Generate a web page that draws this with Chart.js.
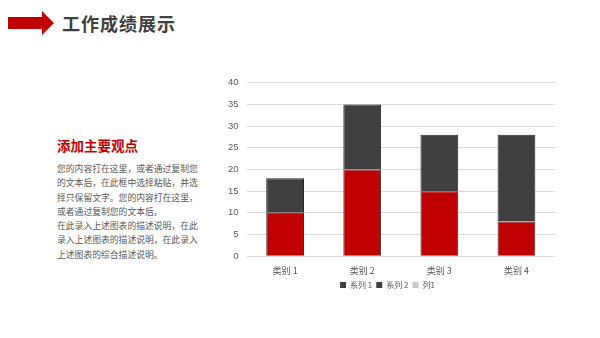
<!DOCTYPE html>
<html>
<head>
<meta charset="utf-8">
<script src="https://cdn.jsdelivr.net/npm/chart.js@4"></script>
<style>
  html, body { margin: 0; padding: 0; background: #fff; }
  body { width: 600px; height: 338px; position: relative; overflow: hidden;
         font-family: "Noto Sans CJK SC", "Noto Sans", sans-serif; }
  #arrow { position: absolute; left: 8px; top: 11px; }
  #title { position: absolute; left: 62px; top: 10px; font-size: 18px; font-weight: bold;
           color: #404040; letter-spacing: 1px; line-height: 26px; }
  #subtitle { position: absolute; left: 57px; top: 136px; font-size: 13.5px; font-weight: bold;
              color: #c00000; line-height: 18px; }
  #desc { position: absolute; left: 57px; top: 162px; width: 170px; font-size: 8.8px;
          color: #595959; line-height: 14.3px; white-space: nowrap; }
  #box { position: absolute; left: 220px; top: 69px; width: 345px; height: 230px; }
</style>
</head>
<body>
<svg id="arrow" width="46" height="24" viewBox="0 0 46 24">
  <polygon points="0,6 34,6 34,0 46,12 34,24 34,18 0,18" fill="#c00000"/>
</svg>
<div id="title">工作成绩展示</div>
<div id="subtitle">添加主要观点</div>
<div id="desc">您的内容打在这里，或者通过复制您<br>的文本后，在此框中选择粘贴，并选<br>择只保留文字。您的内容打在这里，<br>或者通过复制您的文本后。<br>在此录入上述图表的描述说明，在此<br>录入上述图表的描述说明，在此录入<br>上述图表的综合描述说明。</div>
<div id="box"><canvas id="myChart"></canvas></div>
<script>
var categories = ['类别 1', '类别 2', '类别 3', '类别 4'];
var series1 = [10, 20, 15, 8];
var series2 = [8, 15, 13, 20];
var column1 = [];
var yTicks = { min: 0, max: 40, step: 5 };

var ctx = document.getElementById('myChart').getContext('2d');
var myChart = new Chart(ctx, {
  type: 'bar',
  data: {
    labels: categories,
    datasets: [{
      label: '系列 1',
      data: series1,
      backgroundColor: '#c00000',
      borderColor: '#333333',
      borderWidth: 1,
      legendColor: '#404040'
    }, {
      label: '系列 2',
      data: series2,
      backgroundColor: '#404040',
      borderColor: '#262626',
      borderWidth: 1,
      legendColor: '#404040'
    }, {
      label: '列1',
      data: column1,
      backgroundColor: '#c8c8c8',
      legendColor: '#c8c8c8'
    }]
  },
  options: {
    responsive: true,
    maintainAspectRatio: false,
    animation: false,
    categoryPercentage: 0.49,
    barPercentage: 1,
    layout: { padding: { left: 0, right: 10, top: 2, bottom: 0 } },
    plugins: {
      legend: {
        position: 'bottom',
        labels: {
          color: '#595959',
          boxWidth: 6,
          boxHeight: 6,
          padding: 4,
          font: { size: 8, family: '"Noto Sans CJK SC", sans-serif' },
          generateLabels: function (chart) {
            return chart.data.datasets.map(function (ds, i) {
              return {
                text: ds.label,
                fillStyle: ds.legendColor,
                strokeStyle: ds.legendColor,
                lineWidth: 0,
                fontColor: '#595959',
                datasetIndex: i
              };
            });
          }
        }
      },
      tooltip: { enabled: false }
    },
    scales: {
      x: {
        stacked: true,
        grid: { display: false },
        border: { display: false },
        ticks: { padding: 1, color: '#595959', font: { size: 9, family: '"Noto Sans CJK SC", sans-serif' } }
      },
      y: {
        stacked: true,
        min: yTicks.min,
        max: yTicks.max,
        grid: { color: '#d9d9d9', drawTicks: false },
        border: { display: false },
        ticks: {
          stepSize: yTicks.step,
          padding: 8,
          color: '#595959',
          font: { size: 9.5, family: '"Liberation Sans", sans-serif' }
        }
      }
    }
  }
});
</script>
</body>
</html>
